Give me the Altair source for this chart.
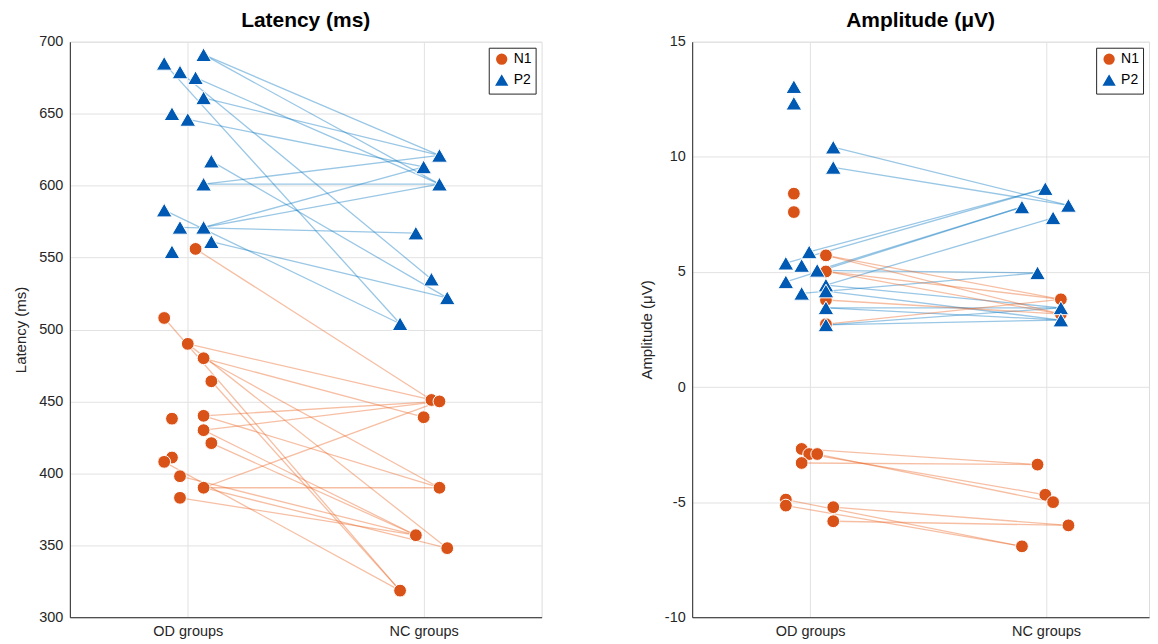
import altair as alt
import pandas as pd

# ---------------- Latency (ms) ----------------
lat_n1_od_x = [1.033, 0.900, 1.000, 1.067, 1.100, 0.933, 1.067, 1.067, 1.100, 0.933, 0.900, 0.967, 1.067, 0.967]
lat_n1_od_y = [556, 508, 490, 480, 464, 438, 440, 430, 421, 411, 408, 398, 390, 383]
lat_n1_nc_x = [2.033, 2.067, 2.000, 2.067, 1.967, 2.100, 1.900]
lat_n1_nc_y = [451, 450, 439, 390, 357, 348, 318.5]
lat_n1_pairs = [(0, 0), (1, 6), (2, 0), (2, 5), (3, 2), (3, 3), (4, 6), (6, 1), (6, 3),
                (7, 1), (7, 4), (8, 4), (10, 6), (11, 4), (12, 1), (12, 3), (12, 5), (13, 4)]

lat_p2_od_x = [1.067, 0.900, 0.967, 1.033, 1.067, 0.933, 1.000, 1.100, 1.067, 0.900, 0.967, 1.067, 1.100, 0.933]
lat_p2_od_y = [691, 685, 679, 675, 661, 650, 646, 617, 601, 583, 571, 571, 561, 554]
lat_p2_nc_x = [2.067, 2.000, 2.067, 1.967, 2.033, 2.100, 1.900]
lat_p2_nc_y = [621, 613, 601, 567, 535, 522, 504]
lat_p2_pairs = [(0, 0), (0, 2), (1, 6), (2, 4), (3, 2), (4, 0), (6, 1), (7, 5), (8, 0),
                (8, 2), (9, 6), (10, 3), (11, 1), (11, 2), (12, 5)]

# ---------------- Amplitude (uV) ----------------
amp_n1_od_x = [0.931, 0.931, 1.067, 1.067, 1.067, 1.067, 0.964, 0.996, 1.030, 0.964, 0.897, 0.897, 1.098, 1.098]
amp_n1_od_y = [8.40, 7.60, 5.72, 5.02, 3.78, 2.73, -2.69, -2.91, -2.91, -3.30, -4.89, -5.15, -5.22, -5.83]
amp_n1_nc_x = [2.063, 2.063, 1.964, 1.997, 2.030, 2.095, 1.898]
amp_n1_nc_y = [3.81, 3.17, -3.37, -4.68, -5.00, -6.01, -6.92]
amp_n1_pairs = [(2, 0), (2, 1), (3, 0), (3, 1), (4, 1), (5, 0), (6, 2), (9, 2), (7, 3),
                (8, 4), (10, 6), (11, 6), (12, 5), (13, 5)]

amp_p2_od_x = [0.931, 0.931, 1.098, 1.098, 0.996, 0.897, 0.964, 1.030, 0.897, 0.964, 1.067, 1.067, 1.067, 1.067]
amp_p2_od_y = [13.05, 12.33, 10.42, 9.54, 5.87, 5.38, 5.28, 5.07, 4.57, 4.07, 4.43, 4.17, 3.44, 2.70]
amp_p2_nc_x = [1.997, 1.898, 2.095, 2.030, 1.964, 2.063, 2.063]
amp_p2_nc_y = [8.62, 7.82, 7.89, 7.35, 4.96, 3.44, 2.91]
amp_p2_pairs = [(2, 2), (3, 2), (4, 0), (5, 0), (8, 1), (7, 1), (10, 3), (7, 4), (9, 4),
                (10, 5), (11, 6), (12, 5), (12, 6), (13, 5), (13, 6)]

group_ticks = [1, 2]
lat_ticks = [300, 350, 400, 450, 500, 550, 600, 650, 700]
amp_ticks = [-10, -5, 0, 5, 10, 15]

N1_COLOR = "#D95319"
P2_COLOR = "#0059B3"
N1_LINE = "#E8601C"
P2_LINE = "#0072BD"
FONT = "Liberation Sans"
TXT = "#262626"


def points_df(od_x, od_y, nc_x, nc_y, comp):
    return pd.DataFrame({"x": list(od_x) + list(nc_x),
                         "y": list(od_y) + list(nc_y),
                         "comp": comp})


def lines_df(od_x, od_y, nc_x, nc_y, pairs, comp):
    return pd.DataFrame({"x": [od_x[i] for i, j in pairs],
                         "y": [od_y[i] for i, j in pairs],
                         "x2": [nc_x[j] for i, j in pairs],
                         "y2": [nc_y[j] for i, j in pairs],
                         "comp": comp})


def panel(title, ytitle, ydomain, yticks, xmax, width, n1, p2):
    xs = alt.Scale(domain=[0.5, xmax], nice=False, zero=False)
    ys = alt.Scale(domain=ydomain, nice=False, zero=False)
    xaxis = alt.Axis(values=group_ticks, title=None, grid=True, ticks=False,
                     labelExpr="datum.value == 1 ? 'OD groups' : 'NC groups'",
                     labelPadding=7, labelFontSize=14.5, labelFont=FONT, labelColor=TXT,
                     domainColor=TXT, gridColor="#e2e2e2")
    yaxis = alt.Axis(values=yticks, title=ytitle, grid=True, ticks=False,
                     labelExpr="toString(datum.value)",
                     labelPadding=7, labelFontSize=14.5, labelFont=FONT, labelColor=TXT,
                     titleFont=FONT, titleFontSize=15, titleFontWeight="normal",
                     titleColor=TXT, titlePadding=10,
                     domainColor=TXT, gridColor="#e2e2e2")
    pts = pd.concat([points_df(*n1[:4], "N1"), points_df(*p2[:4], "P2")], ignore_index=True)
    ln_n1 = lines_df(*n1, "N1")
    ln_p2 = lines_df(*p2, "P2")

    l_p2 = alt.Chart(ln_p2).mark_rule(color=P2_LINE, opacity=0.4, strokeWidth=1.3).encode(
        x=alt.X("x:Q", scale=xs, axis=xaxis), y=alt.Y("y:Q", scale=ys, axis=yaxis),
        x2="x2:Q", y2="y2:Q")
    l_n1 = alt.Chart(ln_n1).mark_rule(color=N1_LINE, opacity=0.4, strokeWidth=1.3).encode(
        x=alt.X("x:Q", scale=xs, axis=xaxis), y=alt.Y("y:Q", scale=ys, axis=yaxis),
        x2="x2:Q", y2="y2:Q")
    leg = alt.Legend(title=None, orient="top-right", offset=6, padding=4,
                     strokeColor=TXT, fillColor="white", labelFont=FONT,
                     labelFontSize=14, labelColor="#000", symbolSize=130,
                     rowPadding=1, labelOffset=3)
    dom = ["N1", "P2"]
    p = alt.Chart(pts).mark_point(filled=True, opacity=1, stroke="white",
                                  strokeWidth=1).encode(
        x=alt.X("x:Q", scale=xs, axis=xaxis), y=alt.Y("y:Q", scale=ys, axis=yaxis),
        color=alt.Color("comp:N", scale=alt.Scale(domain=dom, range=[N1_COLOR, P2_COLOR]), legend=leg),
        shape=alt.Shape("comp:N", scale=alt.Scale(domain=dom, range=["circle", "triangle-up"]), legend=leg),
        size=alt.Size("comp:N", scale=alt.Scale(domain=dom, range=[165, 250]), legend=None),
    )
    return alt.layer(l_p2, l_n1, p).properties(
        width=width, height=577,
        title=alt.TitleParams(title, fontSize=21, fontWeight="bold", font=FONT,
                              anchor="middle", offset=3, color="#000"))


left = panel("Latency (ms)", "Latency (ms)", [300, 700], lat_ticks, 2.5, 473,
             (lat_n1_od_x, lat_n1_od_y, lat_n1_nc_x, lat_n1_nc_y, lat_n1_pairs),
             (lat_p2_od_x, lat_p2_od_y, lat_p2_nc_x, lat_p2_nc_y, lat_p2_pairs))
right = panel("Amplitude (μV)", "Amplitude (μV)", [-10, 15], amp_ticks, 2.4366, 458,
              (amp_n1_od_x, amp_n1_od_y, amp_n1_nc_x, amp_n1_nc_y, amp_n1_pairs),
              (amp_p2_od_x, amp_p2_od_y, amp_p2_nc_x, amp_p2_nc_y, amp_p2_pairs))

chart = alt.hconcat(left, right, spacing=96).resolve_legend(
    color="independent", shape="independent", size="independent"
).properties(
    padding={"left": 5, "top": 0, "right": 0, "bottom": 0}
).configure_view(stroke=None).configure(background="white")

chart.save("out.html", embed_options={"renderer": "svg", "actions": False})
